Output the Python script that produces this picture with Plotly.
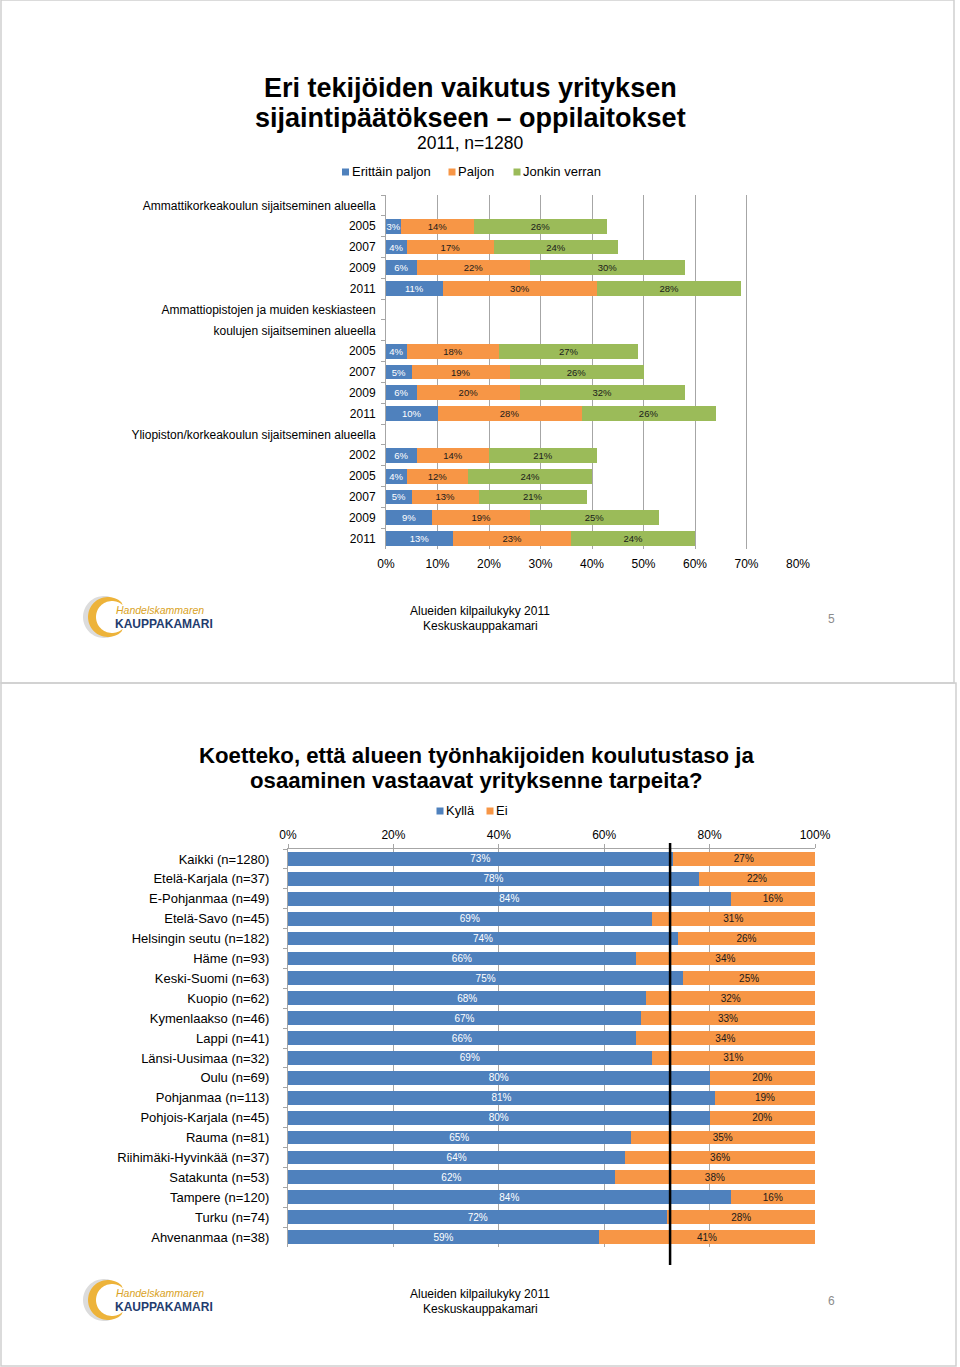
import math
import plotly.graph_objects as go

W, H = 960, 1367
FONT = "Liberation Sans, Arial, sans-serif"
BLUE, ORANGE, GREEN = "#4F81BD", "#F79646", "#9BBB59"
GRID = "#a6a6a6"

# ---------------- Data: slide 5 ----------------
top_rows = ["amk_h", "amk_2005", "amk_2007", "amk_2009", "amk_2011",
            "ao_h1", "ao_h2", "ao_2005", "ao_2007", "ao_2009", "ao_2011",
            "yo_h", "yo_2002", "yo_2005", "yo_2007", "yo_2009", "yo_2011"]
top_labels = ["Ammattikorkeakoulun sijaitseminen alueella", "2005", "2007", "2009", "2011",
              "Ammattiopistojen ja muiden keskiasteen", "koulujen sijaitseminen alueella",
              "2005", "2007", "2009", "2011",
              "Yliopiston/korkeakoulun sijaitseminen alueella",
              "2002", "2005", "2007", "2009", "2011"]
erittain_paljon = [None, 3, 4, 6, 11, None, None, 4, 5, 6, 10, None, 6, 4, 5, 9, 13]
paljon = [None, 14, 17, 22, 30, None, None, 18, 19, 20, 28, None, 14, 12, 13, 19, 23]
jonkin_verran = [None, 26, 24, 30, 28, None, None, 27, 26, 32, 26, None, 21, 24, 21, 25, 24]
top_series_names = ["Erittäin paljon", "Paljon", "Jonkin verran"]
top_xticks = [0, 10, 20, 30, 40, 50, 60, 70, 80]

# ---------------- Data: slide 6 ----------------
regions = ["Kaikki (n=1280)", "Etelä-Karjala (n=37)", "E-Pohjanmaa (n=49)", "Etelä-Savo (n=45)",
           "Helsingin seutu (n=182)", "Häme (n=93)", "Keski-Suomi (n=63)", "Kuopio (n=62)",
           "Kymenlaakso (n=46)", "Lappi (n=41)", "Länsi-Uusimaa (n=32)", "Oulu (n=69)",
           "Pohjanmaa (n=113)", "Pohjois-Karjala (n=45)", "Rauma (n=81)",
           "Riihimäki-Hyvinkää (n=37)", "Satakunta (n=53)", "Tampere (n=120)",
           "Turku (n=74)", "Ahvenanmaa (n=38)"]
kylla = [73, 78, 84, 69, 74, 66, 75, 68, 67, 66, 69, 80, 81, 80, 65, 64, 62, 84, 72, 59]
ei = [27, 22, 16, 31, 26, 34, 25, 32, 33, 34, 31, 20, 19, 20, 35, 36, 38, 16, 28, 41]
bottom_series_names = ["Kyllä", "Ei"]
bottom_xticks = [0, 20, 40, 60, 80, 100]
reference_line_value = 72.5


def fx(px):
    return px / W


def fy(py):
    return 1 - py / H


def pct(vals):
    return ["" if v is None else f"{v}%" for v in vals]


fig = go.Figure()

# ---- top chart bars ----
for name, vals, col, tcol in [(top_series_names[0], erittain_paljon, BLUE, "white"),
                              (top_series_names[1], paljon, ORANGE, "#1a1a1a"),
                              (top_series_names[2], jonkin_verran, GREEN, "#1a1a1a")]:
    fig.add_trace(go.Bar(
        x=vals, y=top_rows, orientation="h", name=name, marker_color=col,
        marker_line_width=0, width=0.71,
        text=pct(vals), textposition="inside", insidetextanchor="middle",
        textangle=0, constraintext="none", cliponaxis=False,
        textfont=dict(family=FONT, size=9.5, color=tcol),
        showlegend=False, hoverinfo="skip", xaxis="x", yaxis="y"))

# ---- bottom chart bars ----
for name, vals, col, tcol in [(bottom_series_names[0], kylla, BLUE, "white"),
                              (bottom_series_names[1], ei, ORANGE, "#1a1a1a")]:
    fig.add_trace(go.Bar(
        x=vals, y=regions, orientation="h", name=name, marker_color=col,
        marker_line_width=0, width=0.69,
        text=pct(vals), textposition="inside", insidetextanchor="middle",
        textangle=0, constraintext="none", cliponaxis=False,
        textfont=dict(family=FONT, size=10, color=tcol),
        showlegend=False, hoverinfo="skip", xaxis="x2", yaxis="y2"))

shapes = []
annotations = []

# slide borders
for (x0, y0, x1, y1) in [(1, 0, 954, 683), (1, 683, 956, 1366)]:
    shapes.append(dict(type="rect", xref="paper", yref="paper",
                       x0=fx(x0), x1=fx(x1), y0=fy(y1), y1=fy(y0),
                       line=dict(color="#cfcfcf", width=1.5), layer="below"))


def text(px, py, s, size, color="#000", xanchor="center", bold=False, italic=False):
    if bold:
        s = f"<b>{s}</b>"
    if italic:
        s = f"<i>{s}</i>"
    annotations.append(dict(x=fx(px), y=fy(py), xref="paper", yref="paper", text=s,
                            showarrow=False, xanchor=xanchor, yanchor="middle",
                            borderpad=0,
                            font=dict(family=FONT, size=size, color=color)))


def legend(items, py, size=13):
    for sq_x, label, col in items:
        shapes.append(dict(type="rect", xref="paper", yref="paper",
                           x0=fx(sq_x - 3.5), x1=fx(sq_x + 3.5),
                           y0=fy(py + 3.5), y1=fy(py - 3.5),
                           fillcolor=col, line=dict(width=0)))
        text(sq_x + 5, py, label, size, xanchor="left")


def crescent(cx, cy, r1, cx2, r2, a0, a1, n=48):
    pts = []
    for i in range(n + 1):
        a = math.radians(a0 + (a1 - a0) * i / n)
        pts.append((cx + r1 * math.cos(a), cy - r1 * math.sin(a)))
    for i in range(n + 1):
        a = math.radians(a1 - (a1 - a0) * i / n)
        pts.append((cx2 + r2 * math.cos(a), cy - r2 * math.sin(a)))
    return "M " + " L ".join(f"{fx(x):.5f},{fy(y):.5f}" for x, y in pts) + " Z"


def logo(oy):
    shapes.append(dict(type="path", xref="paper", yref="paper",
                       path=crescent(104, 617 + oy, 21, 107, 18.5, 75, 285),
                       fillcolor="#dcdcdc", line=dict(width=0)))
    shapes.append(dict(type="path", xref="paper", yref="paper",
                       path=crescent(108, 617 + oy, 20, 112, 16, 48, 312),
                       fillcolor="#EDB33A", line=dict(width=0)))
    text(115, 610 + oy, "Handelskammaren", 10.5, color="#D9A224", xanchor="left", italic=True)
    text(114, 624 + oy, "KAUPPAKAMARI", 12, color="#1F3C6E", xanchor="left", bold=True)


# ---- slide 5 texts ----
text(470, 88, "Eri tekijöiden vaikutus yrityksen", 27, bold=True)
text(470, 118, "sijaintipäätökseen – oppilaitokset", 27, bold=True)
text(470, 143, "2011, n=1280", 17.5)
legend([(345.5, top_series_names[0], BLUE), (452, top_series_names[1], ORANGE),
        (517, top_series_names[2], GREEN)], 172)
text(480, 611, "Alueiden kilpailukyky 2011", 12)
text(480, 626, "Keskuskauppakamari", 12)
text(831, 619, "5", 12, color="#8c8c8c")
logo(0)

# ---- slide 6 texts ----
text(476, 755, "Koetteko, että alueen työnhakijoiden koulutustaso ja", 22.2, bold=True)
text(476, 780, "osaaminen vastaavat yrityksenne tarpeita?", 22.2, bold=True)
legend([(440, bottom_series_names[0], BLUE), (490, bottom_series_names[1], ORANGE)], 811)
text(480, 1294, "Alueiden kilpailukyky 2011", 12)
text(480, 1309, "Keskuskauppakamari", 12)
text(831, 1301, "6", 12, color="#8c8c8c")
logo(683)

# reference line on bottom chart
shapes.append(dict(type="line", xref="x2", yref="paper",
                   x0=reference_line_value, x1=reference_line_value,
                   y0=fy(1265), y1=fy(843), line=dict(color="black", width=2.5)))

tickfont12 = dict(size=12, family=FONT, color="#000")
fig.update_layout(
    width=W, height=H, margin=dict(l=0, r=0, t=0, b=0, autoexpand=False), autosize=False,
    paper_bgcolor="white", plot_bgcolor="white",
    barmode="stack", showlegend=False,
    font=dict(family=FONT, color="#000"),
    shapes=shapes, annotations=annotations,
    xaxis=dict(domain=[fx(386), fx(798)], range=[0, 80], anchor="y", automargin=False,
               tickvals=top_xticks, ticktext=[f"{v}%" for v in top_xticks],
               showgrid=True, gridcolor=GRID, gridwidth=1, zeroline=False,
               showline=False, ticks="", ticklabelstandoff=6,
               tickfont=tickfont12, fixedrange=True),
    yaxis=dict(domain=[fy(549), fy(195)], anchor="x", type="category", automargin=False,
               categoryorder="array", categoryarray=top_rows,
               range=[len(top_rows) - 0.5, -0.5],
               tickvals=top_rows, ticktext=top_labels, tickson="boundaries",
               ticks="outside", ticklen=4, tickcolor=GRID, ticklabelstandoff=7,
               showline=True, linecolor=GRID, linewidth=1, showgrid=False,
               tickfont=tickfont12, fixedrange=True),
    xaxis2=dict(domain=[fx(288), fx(815)], range=[0, 100], anchor="y2", side="top",
                automargin=False,
                tickvals=bottom_xticks, ticktext=[f"{v}%" for v in bottom_xticks],
                showgrid=True, gridcolor=GRID, gridwidth=1, zeroline=False,
                showline=True, linecolor=GRID, ticks="outside", ticklen=4, tickcolor=GRID,
                tickfont=tickfont12, fixedrange=True),
    yaxis2=dict(domain=[fy(1247), fy(849)], anchor="x2", type="category", automargin=False,
                categoryorder="array", categoryarray=regions,
                range=[len(regions) - 0.5, -0.5], tickson="boundaries",
                ticks="outside", ticklen=4, tickcolor=GRID, ticklabelstandoff=15,
                showline=True, linecolor=GRID, linewidth=1, showgrid=False,
                tickfont=dict(size=13, family=FONT, color="#000"), fixedrange=True),
)

fig.write_html(
    "out.html",
    config={"responsive": False, "displayModeBar": False},
    post_script="document.body.style.margin='0';document.body.style.padding='0';"
                "document.documentElement.style.overflow='hidden';"
                "document.body.style.overflow='hidden';",
)
